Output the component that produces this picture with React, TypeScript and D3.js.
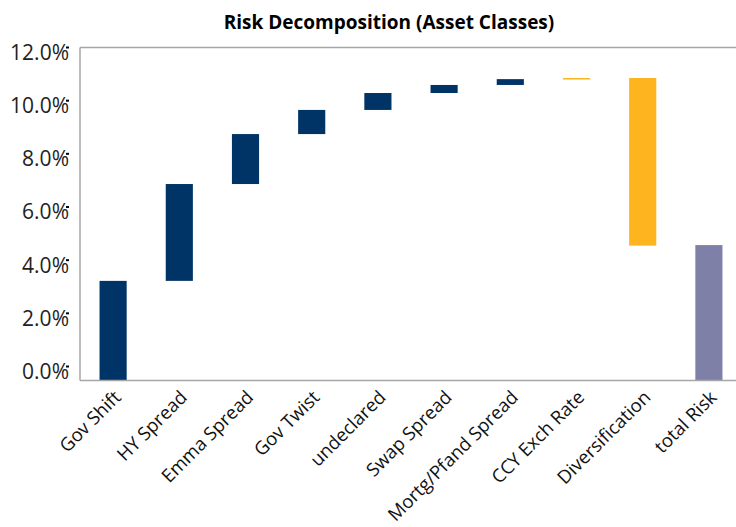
import React from "react";
import * as d3 from "d3";

const categories = [
  "Gov Shift",
  "HY Spread",
  "Emma Spread",
  "Gov Twist",
  "undeclared",
  "Swap Spread",
  "Mortg/Pfand Spread",
  "CCY Exch Rate",
  "Diversification",
  "total Risk",
];
// waterfall bar bottoms and tops (in %)
const barStart = [0, 3.59, 7.08, 8.88, 9.75, 10.36, 10.65, 10.86, 4.86, 0];
const barEnd = [3.59, 7.08, 8.88, 9.75, 10.36, 10.65, 10.86, 10.9, 10.9, 4.88];
const barKind = ["pos", "pos", "pos", "pos", "pos", "pos", "pos", "neg", "neg", "total"];
const yTicks = [0, 2, 4, 6, 8, 10, 12];
const title = "Risk Decomposition (Asset Classes)";

const colors: Record<string, string> = {
  pos: "#003366",
  neg: "#FDB41E",
  total: "#7F80A8",
};

const W = 736;
const H = 527;
const left = 80;
const right = 742;
const top = 47.5;
const bottom = 380.5;
const font = "'Open Sans', 'DejaVu Sans', sans-serif";

export default function App() {
  const x = d3.scaleBand<string>().domain(categories).range([left, right]).paddingInner(0.59).paddingOuter(0.295);
  const y = d3.scaleLinear().domain([0, 12]).range([bottom, top]);
  const yLab = d3.scaleLinear().domain([0, 12]).range([371.5, 52.5]);
  const fmt = (v: number) => v.toFixed(1) + "%";

  return (
    <svg width={W} height={H} style={{ position: "absolute", left: 0, top: 0, background: "#fff" }}>
      <rect x={0} y={0} width={W} height={H} fill="#fff" />
      <text x={389} y={29} textAnchor="middle" fontFamily={font} fontWeight="bold" fontSize={19} fill="#000">
        {title}
      </text>
      {categories.map((c, i) => {
        const y0 = y(barStart[i]);
        const y1 = y(barEnd[i]);
        return (
          <rect
            key={c}
            x={x(c)}
            y={Math.min(y0, y1)}
            width={x.bandwidth()}
            height={Math.max(1.5, Math.abs(y0 - y1))}
            fill={colors[barKind[i]]}
          />
        );
      })}
      {/* frame */}
      <line x1={left} x2={W} y1={top} y2={top} stroke="#a6a6a6" strokeWidth={1.5} />
      <line x1={left} x2={left} y1={top} y2={bottom} stroke="#a6a6a6" strokeWidth={1.5} />
      <line x1={left} x2={W} y1={bottom} y2={bottom} stroke="#a6a6a6" strokeWidth={1.5} />
      {yTicks.map((t) => (
        <g key={t}>
          <text
            x={69}
            y={yLab(t)}
            dy="0.35em"
            textAnchor="end"
            fontFamily={font}
            fontSize={21}
            fill="#222"
          >
            {fmt(t)}
          </text>
          <line x1={66} x2={69} y1={yLab(t) - 5} y2={yLab(t) - 5} stroke="#000" strokeWidth={2} />
        </g>
      ))}
      {categories.map((c) => {
        const cx = (x(c) as number) + x.bandwidth() / 2 + 9;
        const cy = bottom + 18;
        return (
          <text
            key={c}
            transform={`translate(${cx},${cy}) rotate(-45)`}
            textAnchor="end"
            fontFamily={font}
            fontSize={18.5}
            fill="#111"
          >
            {c}
          </text>
        );
      })}
    </svg>
  );
}
